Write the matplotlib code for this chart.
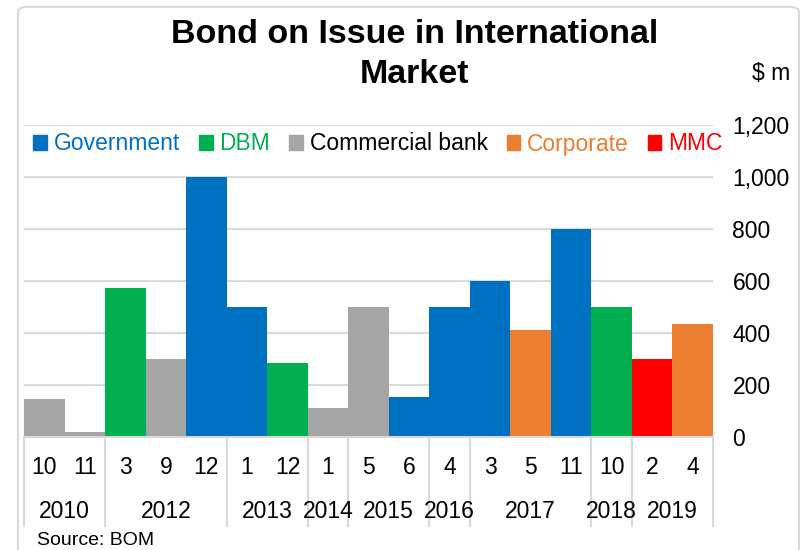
import matplotlib.pyplot as plt
from matplotlib.patches import FancyBboxPatch, Patch
from matplotlib.ticker import FuncFormatter
import matplotlib.transforms as mtransforms

plt.rcParams['font.family'] = ['Liberation Sans', 'DejaVu Sans']

months = ['10', '11', '3', '9', '12', '1', '12', '1', '5', '6', '4', '3', '5', '11', '10', '2', '4']
years = ['2010', '2012', '2013', '2014', '2015', '2016', '2017', '2018', '2019']
year_counts = [2, 3, 2, 1, 2, 1, 3, 1, 2]
issuer = ['Commercial bank', 'Commercial bank', 'DBM', 'Commercial bank', 'Government',
          'Government', 'DBM', 'Commercial bank', 'Commercial bank', 'Government',
          'Government', 'Government', 'Corporate', 'Government', 'DBM', 'MMC', 'Corporate']
amount = [145, 20, 575, 300, 1000, 500, 285, 110, 500, 155, 500, 600, 410, 800, 500, 300, 435]

series = ['Government', 'DBM', 'Commercial bank', 'Corporate', 'MMC']
colors = {'Government': '#0070C0', 'DBM': '#00B050', 'Commercial bank': '#A5A5A5',
          'Corporate': '#ED7D31', 'MMC': '#FF0000'}
text_colors = ['#0070C0', '#00B050', 'black', '#ED7D31', '#FF0000']

W, H = 802, 550
fig = plt.figure(figsize=(W / 100, H / 100), dpi=100)
ax = fig.add_axes([24 / W, 1 - 437 / H, (713 - 24) / W, (437 - 125) / H])

x = list(range(len(amount)))
ax.bar(x, amount, width=1.0, color=[colors[s] for s in issuer], zorder=3)
ax.set_xlim(-0.5, len(amount) - 0.5)
ax.set_ylim(0, 1200)
ax.set_yticks(range(0, 1201, 200))
ax.yaxis.tick_right()
ax.yaxis.set_major_formatter(FuncFormatter(lambda v, p: f'{int(v):,}'))
ax.tick_params(axis='y', length=0, pad=14, labelsize=16.5)
for lab in ax.get_yticklabels():
    lab.set_horizontalalignment('left')
ax.grid(axis='y', color='#d9d9d9', linewidth=1.5, zorder=0)
ax.set_xticks([])
for s in ax.spines.values():
    s.set_visible(False)
ax.axhline(0, color='#d9d9d9', linewidth=1.5, zorder=4, clip_on=False)

# two-level category axis
trans = mtransforms.blended_transform_factory(ax.transData, ax.transAxes)
sep_bottom = (437 - 526) / (437 - 125)
for i, m in enumerate(months):
    ax.text(i, (437 - 467) / 312, m, transform=trans, ha='center', va='center', fontsize=16.5)
start = 0
bounds = [0]
for yr, n in zip(years, year_counts):
    ax.text(start + n / 2 - 0.5, (437 - 511) / 312, yr, transform=trans,
            ha='center', va='center', fontsize=16.5)
    start += n
    bounds.append(start)
for b in bounds:
    ax.plot([b - 0.5, b - 0.5], [0, sep_bottom], transform=trans, color='#d9d9d9',
            linewidth=1.5, clip_on=False)

handles = [Patch(color=colors[s]) for s in series]
leg = fig.legend(handles, series, loc='center', bbox_to_anchor=(378 / W, 1 - 144 / H),
                 ncol=5, frameon=False, fontsize=16.5, handlelength=0.6, handleheight=0.6,
                 handletextpad=0.3, columnspacing=0.82, labelcolor=text_colors)

fig.text(415 / W, 1 - 43 / H, 'Bond on Issue in International', ha='center', va='baseline',
         fontsize=24.5, fontweight='bold')
fig.text(415 / W, 1 - 83 / H, 'Market', ha='center', va='baseline',
         fontsize=24.5, fontweight='bold')
fig.text(790 / W, 1 - 80 / H, '$ m', ha='right', va='baseline', fontsize=16.5)
fig.text(37 / W, 1 - 545 / H, 'Source: BOM', ha='left', va='baseline', fontsize=14)

border = FancyBboxPatch((18 / W, -0.05), (799 - 18) / W, 1.05 - 7 / H,
                        boxstyle='round,pad=0,rounding_size=0.01', transform=fig.transFigure,
                        facecolor='none', edgecolor='#d9d9d9', linewidth=1.5)
fig.patches.append(border)

fig.savefig('out.png', dpi=100)
